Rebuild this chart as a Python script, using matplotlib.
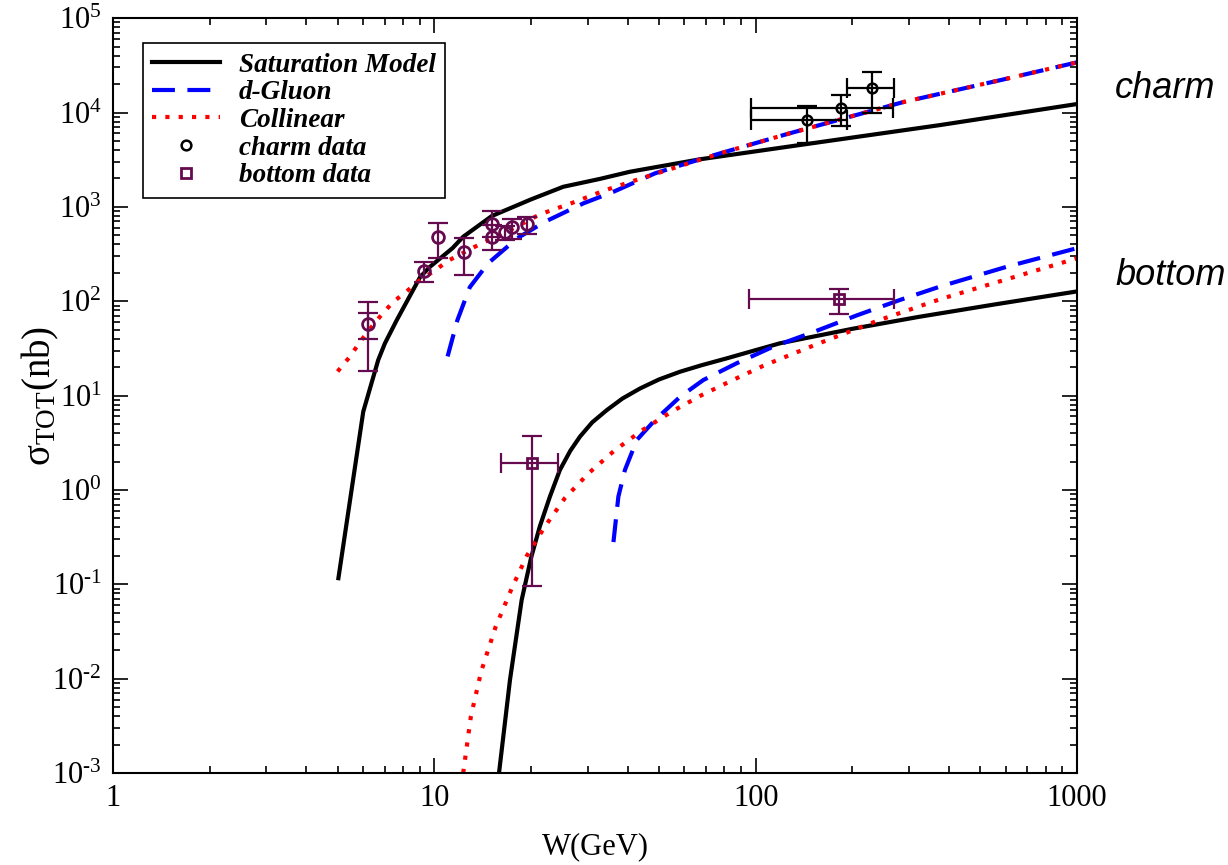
import matplotlib.pyplot as plt
import numpy as np
from matplotlib.ticker import LogLocator, NullFormatter, FixedLocator

plt.rcParams['font.family'] = 'Liberation Serif'
plt.rcParams['mathtext.fontset'] = 'custom'
plt.rcParams['mathtext.rm'] = 'Liberation Serif'
plt.rcParams['mathtext.it'] = 'Liberation Serif:italic'

# curvas charm
w_sat_c = [5.03, 6.01, 6.69, 7.02, 7.64, 9.03, 9.7, 11.4, 12.3, 15.1, 20.0, 25.2, 32.8, 40.6, 67.0, 137, 375, 1000]
s_sat_c = [0.116, 6.75, 23.8, 35.8, 63, 180, 232, 366, 482, 800, 1200, 1633, 1980, 2355, 3190, 4520, 7360, 12300]

w_glu_c = [11.0, 11.8, 12.9, 14.7, 18.1, 22.1, 29.1, 36.1, 48.6, 61, 77.5, 125, 288, 590, 1000]
s_glu_c = [26, 63, 141, 252, 464, 695, 1089, 1445, 2265, 2890, 3690, 5900, 12900, 22400, 34000]

w_col_c = [5.0, 5.47, 5.87, 6.31, 6.83, 7.44, 8.22, 9.03, 10.0, 11.0, 13.7, 17.2, 21.3, 27.1, 34, 43.1,
           54.2, 77.5, 125, 288, 590, 1000]
s_col_c = [18, 26, 37, 51, 71, 98, 128, 168, 209, 267, 394, 567, 832, 1114, 1500, 1955,
           2512, 3690, 5900, 12900, 22400, 34000]

# curvas bottom
w_sat_b = [15.9, 17.2, 18.7, 20.0, 21.3, 22.9, 24.6, 26.5, 28.4, 31.0, 34.4, 38.5, 43.7, 50.0, 58.2,
           68.0, 81.3, 100, 119, 200, 320, 550, 1000]
s_sat_b = [0.001, 0.0097, 0.068, 0.19, 0.41, 0.85, 1.63, 2.6, 3.67, 5.2, 7.0, 9.3, 11.9, 14.8, 17.9,
           21.0, 24.8, 30.3, 35.8, 51, 68, 92, 127]

w_glu_b = [36.1, 37.4, 39.2, 42.7, 48.6, 58.2, 68.7, 87.3, 113.5, 151, 207, 281, 375, 605, 1000]
s_glu_b = [0.28, 0.85, 1.63, 3.39, 5.5, 9.7, 14.6, 22, 33, 47, 71, 103, 143, 232, 365]

w_col_b = [12.3, 13.0, 14.0, 15.5, 17.5, 19.4, 22.1, 25.5, 30.2, 36.3, 44.5, 54.8, 67.9, 84.9,
           105.7, 150, 239, 375, 605, 1000]
s_col_b = [0.001, 0.004, 0.012, 0.035, 0.094, 0.2, 0.41, 0.82, 1.5, 2.6, 4.32, 6.76, 10.1, 14.6,
           20.7, 33.5, 62, 105, 171, 285]

# dados charm (preto, HERA)
w_ch = [144.5, 184, 231]
s_ch = [8300, 11200, 18270]
w_ch_lo = [96.8, 96.8, 193]
w_ch_hi = [192, 268, 270]
s_ch_lo = [4780, 7230, 9930]
s_ch_hi = [11780, 15300, 26600]

# dados charm (baixa energia)
w_fx = [6.23, 9.29, 10.25, 12.4, 15.1, 15.1, 16.6, 17.5, 19.5]
s_fx = [58, 210, 482, 334, 652, 482, 540, 607, 652]
s_fx_lo = [18.4, 158, 285, 190, 480, 348, 450, 453, 511]
s_fx_hi = [97, 262, 668, 471, 900, 640, 620, 738, 785]
s_fx1_lo = [39.5]
s_fx1_hi = [74.5]

# dados bottom
w_b = [20.1, 182]
s_b = [1.92, 105]
w_b_lo = [16.1, 95.3]
w_b_hi = [24.2, 270]
s_b_lo = [0.097, 74]
s_b_hi = [3.73, 136]

maroon = '#660a4f'

fig = plt.figure(figsize=(12.28, 8.65), dpi=100)
ax = fig.add_axes([0.092, 0.1064, 0.785, 0.8726])
ax.set_xscale('log')
ax.set_yscale('log')

ax.plot(w_sat_c, s_sat_c, color='black', lw=3, label='Saturation Model')
ax.plot(w_glu_c, s_glu_c, color='#0000ff', lw=3, dashes=(5.5, 3), label='d-Gluon')
ax.plot(w_col_c, s_col_c, color='#ff0000', lw=3, linestyle=(0, (1, 2.2)), label='Collinear')
ax.plot(w_sat_b, s_sat_b, color='black', lw=3)
ax.plot(w_glu_b, s_glu_b, color='#0000ff', lw=3, dashes=(5.5, 3))
ax.plot(w_col_b, s_col_b, color='#ff0000', lw=3, linestyle=(0, (1, 2.2)))

w_ch, s_ch = np.array(w_ch), np.array(s_ch)
ax.errorbar(w_ch, s_ch,
            xerr=[w_ch - w_ch_lo, np.array(w_ch_hi) - w_ch],
            yerr=[s_ch - s_ch_lo, np.array(s_ch_hi) - s_ch],
            fmt='none', ecolor='black', elinewidth=1.6, capsize=7, capthick=1.6, zorder=4)
ax.plot(w_ch, s_ch, 'o', ms=7, mfc='none', mec='black', mew=1.8, zorder=5, label='charm data')

w_fx, s_fx = np.array(w_fx), np.array(s_fx)
ax.errorbar(w_fx, s_fx, yerr=[s_fx - s_fx_lo, np.array(s_fx_hi) - s_fx],
            fmt='none', ecolor=maroon, elinewidth=1.6, capsize=7, capthick=1.6, zorder=4)
ax.errorbar(w_fx[:1], s_fx[:1], yerr=[s_fx[:1] - s_fx1_lo, np.array(s_fx1_hi) - s_fx[:1]],
            fmt='none', ecolor=maroon, elinewidth=1.6, capsize=7, capthick=1.6, zorder=4)
ax.plot(w_fx, s_fx, 'o', ms=8.5, mfc='none', mec=maroon, mew=2, zorder=5)

w_b, s_b = np.array(w_b), np.array(s_b)
ax.errorbar(w_b, s_b,
            xerr=[w_b - w_b_lo, np.array(w_b_hi) - w_b],
            yerr=[s_b - s_b_lo, np.array(s_b_hi) - s_b],
            fmt='none', ecolor=maroon, elinewidth=1.6, capsize=7, capthick=1.6, zorder=4)
ax.plot(w_b, s_b, 's', ms=7, mfc='none', mec=maroon, mew=2, zorder=5, label='bottom data')

ax.set_xlim(1, 1000)
ax.set_ylim(1e-3, 1e5)

ax.xaxis.set_major_locator(FixedLocator([1, 10, 100, 1000]))
ax.set_xticklabels(['1', '10', '100', '1000'])
ax.xaxis.set_minor_locator(LogLocator(base=10, subs=np.arange(2, 10), numticks=100))
ax.xaxis.set_minor_formatter(NullFormatter())
yt = [10.0**k for k in range(-3, 6)]
ax.yaxis.set_major_locator(FixedLocator(yt))
ax.set_yticklabels([r'$\mathregular{10^{%s}}$' % (str(k) if k >= 0 else r'\text{-}' + str(-k))
                    for k in range(-3, 6)])
ax.yaxis.set_minor_locator(LogLocator(base=10, subs=np.arange(2, 10), numticks=100))
ax.yaxis.set_minor_formatter(NullFormatter())

ax.tick_params(which='both', direction='in', top=True, right=True, width=1.2)
ax.tick_params(which='major', length=11, labelsize=22, pad=8)
ax.tick_params(which='minor', length=5)
for sp in ax.spines.values():
    sp.set_linewidth(1.5)

ax.set_xlabel('W(GeV)', fontsize=22, labelpad=14)
ax.set_ylabel(r'$\mathregular{\sigma_{TOT}(nb)}$', fontsize=28, labelpad=-6)

leg = ax.legend(loc='upper left', bbox_to_anchor=(0.031, 0.967), borderaxespad=0,
                prop={'family': 'Liberation Serif', 'weight': 'bold', 'style': 'italic', 'size': 19.5},
                handlelength=2.5, handletextpad=0.7, labelspacing=0.1, borderpad=0.35,
                fancybox=False, edgecolor='black', framealpha=1)
leg.get_frame().set_linewidth(1.2)

fig.text(0.908, 0.898, 'charm', fontsize=26, style='italic', family='Liberation Sans', va='center')
fig.text(0.908, 0.682, 'bottom', fontsize=26, style='italic', family='Liberation Sans', va='center')

fig.savefig('out.png', dpi=100)
